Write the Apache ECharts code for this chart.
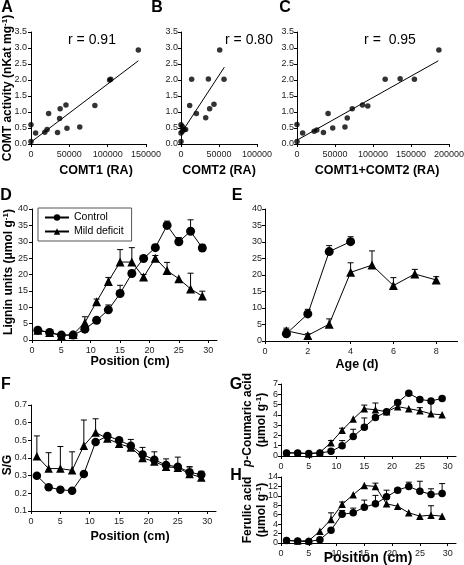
<!DOCTYPE html>
<html><head><meta charset="utf-8">
<script src="https://cdn.jsdelivr.net/npm/echarts@6/dist/echarts.min.js"></script>
<style>html,body{margin:0;padding:0;background:#fff}#c{width:464px;height:565px}</style>
</head><body><div id="c"></div>
<script>
// ---------- data ----------
const aX = [0, 0, 6000, 18000, 21000, 23000, 34600, 37300, 38000, 45600, 46900, 63600, 83300, 102500, 104000, 140000];
const aY = [0.6, 0.08, 0.34, 0.37, 0.45, 0.95, 0.36, 0.8, 1.1, 1.22, 0.49, 0.53, 1.2, 2.0, 2.02, 2.94];
const aFitX = [0, 140000];
const aFitY = [0.06, 2.6];

const bX = [0, 0, 1700, 4000, 6100, 1700, 0, 11400, 14000, 20200, 32500, 36000, 37700, 43400, 50900, 56600];
const bY = [0.6, 0.08, 0.55, 0.45, 0.45, 0.4, 0.34, 1.2, 2.02, 0.95, 0.82, 2.03, 1.1, 1.24, 2.94, 2.02];
const bFitX = [0, 57000];
const bFitY = [0.33, 2.4];

const cX = [0, 0, 7400, 22600, 26100, 34800, 40900, 47000, 63100, 66100, 72700, 86200, 93100, 116000, 135700, 154500, 186700];
const cY = [0.61, 0.08, 0.34, 0.4, 0.44, 0.36, 0.95, 0.5, 0.53, 0.81, 1.1, 1.22, 1.19, 2.02, 2.04, 2.02, 2.94];
const cFitX = [0, 186000];
const cFitY = [0.12, 2.6];

const position = [1, 3, 5, 7, 9, 11, 13, 15, 17, 19, 21, 23, 25, 27, 29];

const dControl    = [3.0, 2.3, 1.5, 1.5, 3.3, 6.0, 9.2, 14.2, 20.3, 24.9, 28.2, 35.0, 30.0, 33.2, 28.1];
const dControlErr = [0.8, 0.5, 0.4, 0.5, 0.8, 0.8, 1.5, 2.5, 0.5, 0.8, 1.0, 1.3, 1.3, 3.5, 1.1];
const dMild       = [3.0, 2.3, 1.3, 1.7, 5.3, 11.7, 17.9, 23.8, 23.8, 19.2, 25.0, 21.2, 18.7, 15.6, 13.4];
const dMildErr    = [0.8, 0.5, 0.4, 0.5, 1.8, 0.8, 1.2, 3.8, 4.4, 0.8, 0.8, 2.5, 0, 4.8, 1.5];

const ageControl    = [1, 2, 3, 4];
const eControl      = [2.2, 8.2, 27.1, 30.1];
const eControlErr   = [1.3, 1.4, 1.8, 1.5];
const ageMild       = [1, 2, 3, 4, 5, 6, 7, 8];
const eMild         = [3.1, 1.7, 5.1, 20.8, 23.0, 16.8, 20.3, 18.5];
const eMildErr      = [0.8, 0.5, 1.6, 2.9, 4.3, 2.4, 1.4, 1.0];

const fControl    = [0.30, 0.235, 0.22, 0.215, 0.31, 0.49, 0.525, 0.50, 0.47, 0.42, 0.39, 0.36, 0.35, 0.32, 0.305];
const fControlErr = [0, 0, 0, 0, 0, 0, 0, 0, 0, 0, 0, 0, 0, 0.03, 0.02];
const fMild       = [0.41, 0.34, 0.34, 0.33, 0.47, 0.545, 0.51, 0.48, 0.46, 0.40, 0.38, 0.35, 0.345, 0.31, 0.29];
const fMildErr    = [0.115, 0.09, 0.125, 0.105, 0.145, 0.077, 0.01, 0.015, 0.045, 0.06, 0.055, 0.045, 0.06, 0.04, 0.03];

const gControl    = [0.3, 0.3, 0.25, 0.3, 0.45, 1.0, 1.9, 2.8, 3.75, 4.3, 5.2, 6.1, 5.5, 5.35, 5.6];
const gControlErr = [0, 0, 0, 0, 0, 0.5, 0.7, 0.9, 0, 0, 0, 0.15, 0, 0, 0];
const gMild       = [0.3, 0.3, 0.2, 0.35, 1.3, 2.5, 3.6, 4.6, 4.5, 4.3, 4.8, 4.6, 4.4, 4.1, 4.0];
const gMildErr    = [0, 0, 0, 0, 0.2, 0.2, 0, 0.35, 0.65, 0, 0, 0, 0.3, 1.0, 0];

const hControl    = [0.55, 0.4, 0.3, 0.7, 2.7, 6.1, 6.4, 7.6, 8.3, 9.8, 11.2, 12.0, 11.0, 10.3, 10.5];
const hControlErr = [0, 0, 0, 0, 0, 0.8, 1.0, 1.5, 1.8, 1.4, 0, 0.9, 2.1, 1.2, 2.1];
const hMild       = [0.6, 0.4, 0.5, 2.5, 5.0, 8.2, 10.25, 12.2, 12.0, 8.3, 7.8, 6.4, 5.7, 5.9, 5.7];
const hMildErr    = [0, 0, 0, 0, 1.4, 0.5, 0, 0, 0.7, 0, 0, 0, 0, 2.0, 0];

const posTicks = [0, 5, 10, 15, 20, 25, 30];
const ageTicks = [0, 2, 4, 6, 8];
const comtYTicks = [0, 0.5, 1.0, 1.5, 2.0, 2.5, 3.0, 3.5];
const ligninYTicks = [0, 5, 10, 15, 20, 25, 30, 35, 40];
const sgYTicks = [0.1, 0.2, 0.3, 0.4, 0.5, 0.6, 0.7];

// ---------- helpers ----------
const FONT = "'Liberation Sans', Arial, sans-serif";
const zip = (xs, ys) => xs.map((x, i) => [x, ys[i]]);
const zip3 = (xs, ys, es) => xs.map((x, i) => [x, ys[i], es[i]]);

const gridBase = {containLabel: false, outerBoundsMode: 'none'};
const grids = [
  {left: 31, top: 32, width: 115, height: 112},   // A
  {left: 181, top: 32, width: 76, height: 112},   // B
  {left: 297, top: 32, width: 152, height: 112},  // C
  {left: 32, top: 209, width: 185, height: 131},  // D
  {left: 265, top: 209, width: 192.6, height: 132}, // E
  {left: 31, top: 405, width: 185, height: 106},  // F
  {left: 281, top: 384, width: 175, height: 72},  // G
  {left: 281, top: 477, width: 175, height: 66}   // H
].map(g => Object.assign({}, gridBase, g));

function xAx(gi, min, max, ticks) {
  return {type: 'value', gridIndex: gi, min: min, max: max,
    axisLine: {show: true, onZero: false, lineStyle: {color: '#000', width: 1}},
    splitLine: {show: false},
    axisTick: {show: true, length: 3, lineStyle: {color: '#000'}, customValues: ticks},
    axisLabel: {show: true, hideOverlap: false, color: '#222', fontSize: 9, fontFamily: FONT, margin: 6, customValues: ticks,
      formatter: v => String(v)}
  };
}
function yAx(gi, min, max, interval, decimals, showLabel) {
  return {type: 'value', gridIndex: gi, min: min, max: max, interval: interval,
    axisLine: {show: true, onZero: false, lineStyle: {color: '#000', width: 1}},
    splitLine: {show: false},
    axisTick: {show: true, length: 3, lineStyle: {color: '#000'}},
    axisLabel: {show: showLabel !== false, hideOverlap: false, color: '#222', fontSize: 9, fontFamily: FONT, margin: 3,
      formatter: v => Number(v).toFixed(decimals)}
  };
}
// y tick labels placed through the axis scale (for the left column)
function yTickLabelSeries(gi, xMin, ticks, decimals) {
  return {type: 'custom', xAxisIndex: gi, yAxisIndex: gi, silent: true, clip: false, z: 5,
    data: ticks.map(t => [xMin, t]), encode: {x: 0, y: 1},
    renderItem: (params, api) => {
      const v = api.value(1);
      const p = api.coord([api.value(0), v]);
      return {type: 'text', x: p[0] - 4, y: p[1],
        style: {text: Number(v).toFixed(decimals), fill: '#222', font: '9px ' + FONT,
          textAlign: 'right', textVerticalAlign: 'middle'}};
    }};
}

function errRender(params, api) {
  const x = api.value(0), y = api.value(1), e = api.value(2);
  if (!e) return null;
  const p0 = api.coord([x, y]), p1 = api.coord([x, y + e]);
  const w = 3;
  return {type: 'group', children: [
    {type: 'line', shape: {x1: p0[0], y1: p0[1], x2: p1[0], y2: p1[1]}, style: {stroke: '#000', lineWidth: 1}},
    {type: 'line', shape: {x1: p1[0] - w, y1: p1[1], x2: p1[0] + w, y2: p1[1]}, style: {stroke: '#000', lineWidth: 1}}
  ]};
}
function errSeries(gi, xs, ys, es) {
  return {type: 'custom', xAxisIndex: gi, yAxisIndex: gi, renderItem: errRender,
    data: zip3(xs, ys, es), encode: {x: 0, y: 1}, z: 1, silent: true};
}
function lineSeries(gi, name, xs, ys, sym, size) {
  return {type: 'line', name: name, xAxisIndex: gi, yAxisIndex: gi, data: zip(xs, ys),
    symbol: sym, symbolSize: size, showSymbol: true,
    lineStyle: {color: '#000', width: 1}, itemStyle: {color: '#000'}, z: 3, animation: false};
}
function scatterSeries(gi, xs, ys) {
  return {type: 'scatter', xAxisIndex: gi, yAxisIndex: gi, data: zip(xs, ys),
    symbolSize: 5.5, itemStyle: {color: '#000'}, clip: false, z: 3};
}
function fitSeries(gi, xs, ys) {
  return {type: 'line', xAxisIndex: gi, yAxisIndex: gi, data: zip(xs, ys), symbol: 'none',
    lineStyle: {color: '#000', width: 1}, z: 2};
}
function txt(x, y, text, size, weight, extra) {
  return Object.assign({type: 'text', x: x, y: y,
    style: {text: text, font: (weight || 'normal') + ' ' + size + 'px ' + FONT, fill: '#000',
      textAlign: 'center', textVerticalAlign: 'middle'}}, extra || {});
}
function rtxt(x, y, text, size, rich) {
  return {type: 'text', x: x, y: y, rotation: Math.PI / 2,
    style: {text: text, font: 'bold ' + size + 'px ' + FONT, fill: '#000',
      textAlign: 'center', textVerticalAlign: 'middle', rich: rich, lineHeight: size + 2}};
}

const sup = (s) => ({fontSize: s, fontWeight: 'bold', fontFamily: FONT, verticalAlign: 'top', padding: [0, 0, 6, 0]});
const B = {fontSize: 12, fontWeight: 'bold', fontFamily: FONT};

const chart = echarts.init(document.getElementById('c'), null, {renderer: 'canvas'});
chart.setOption({
  animation: false,
  backgroundColor: '#fff',
  grid: grids,
  xAxis: [
    xAx(0, 0, 150000, [0, 50000, 100000, 150000]),
    xAx(1, 0, 100000, [0, 50000, 100000]),
    xAx(2, 0, 200000, [0, 50000, 100000, 150000, 200000]),
    xAx(3, 0, 31.5, posTicks),
    xAx(4, 0, 9, ageTicks),
    xAx(5, 0, 31.5, posTicks),
    xAx(6, 0, 31.5, posTicks),
    xAx(7, 0, 31.5, posTicks)
  ],
  yAxis: [
    yAx(0, 0, 3.5, 0.5, 1, false),
    yAx(1, 0, 3.5, 0.5, 1),
    yAx(2, 0, 3.5, 0.5, 1),
    yAx(3, 0, 40, 5, 0, false),
    yAx(4, 0, 40, 5, 0),
    yAx(5, 0.1, 0.7, 0.1, 1, false),
    yAx(6, 0, 7, 1, 0),
    yAx(7, 0, 14, 2, 0)
  ],
  legend: {
    show: true, left: 38, top: 208, orient: 'vertical', data: ['Control', 'Mild deficit'],
    borderColor: '#555', borderWidth: 1, padding: [4, 8, 4, 6], itemGap: 3,
    itemWidth: 24, itemHeight: 8,
    textStyle: {fontSize: 10.5, fontFamily: FONT, color: '#000'}
  },
  series: [
    fitSeries(0, aFitX, aFitY), scatterSeries(0, aX, aY),
    fitSeries(1, bFitX, bFitY), scatterSeries(1, bX, bY),
    fitSeries(2, cFitX, cFitY), scatterSeries(2, cX, cY),
    lineSeries(3, 'Control', position, dControl, 'circle', 9),
    lineSeries(3, 'Mild deficit', position, dMild, 'triangle', 9),
    errSeries(3, position, dControl, dControlErr),
    errSeries(3, position, dMild, dMildErr),
    lineSeries(4, 'Control', ageControl, eControl, 'circle', 9),
    lineSeries(4, 'Mild deficit', ageMild, eMild, 'triangle', 9),
    errSeries(4, ageControl, eControl, eControlErr),
    errSeries(4, ageMild, eMild, eMildErr),
    lineSeries(5, 'Control', position, fControl, 'circle', 8.5),
    lineSeries(5, 'Mild deficit', position, fMild, 'triangle', 8.5),
    errSeries(5, position, fControl, fControlErr),
    errSeries(5, position, fMild, fMildErr),
    lineSeries(6, 'Control', position, gControl, 'circle', 7.5),
    lineSeries(6, 'Mild deficit', position, gMild, 'triangle', 7.5),
    errSeries(6, position, gControl, gControlErr),
    errSeries(6, position, gMild, gMildErr),
    lineSeries(7, 'Control', position, hControl, 'circle', 7.5),
    lineSeries(7, 'Mild deficit', position, hMild, 'triangle', 7.5),
    errSeries(7, position, hControl, hControlErr),
    errSeries(7, position, hMild, hMildErr),
    yTickLabelSeries(0, 0, comtYTicks, 1),
    yTickLabelSeries(3, 0, ligninYTicks, 0),
    yTickLabelSeries(5, 0, sgYTicks, 1)
  ],
  graphic: [
    txt(7, 8, 'A', 16, 'bold'),
    txt(157, 8, 'B', 16, 'bold'),
    txt(285, 8, 'C', 16, 'bold'),
    txt(6, 196, 'D', 16, 'bold'),
    txt(237, 196, 'E', 16, 'bold'),
    txt(6, 385, 'F', 16, 'bold'),
    txt(236, 385, 'G', 16, 'bold'),
    txt(236, 476, 'H', 16, 'bold'),
    txt(92, 40, 'r = 0.91', 14),
    txt(249, 40, 'r = 0.80', 14),
    txt(390, 40, 'r =  0.95', 14),
    txt(96, 171, 'COMT1 (RA)', 12.5, 'bold'),
    txt(219, 171, 'COMT2 (RA)', 12.5, 'bold'),
    txt(377, 171, 'COMT1+COMT2 (RA)', 12.5, 'bold'),
    txt(130, 362, 'Position (cm)', 12.5, 'bold'),
    txt(357, 365, 'Age (d)', 12.5, 'bold'),
    txt(130, 537, 'Position (cm)', 12.5, 'bold'),
    txt(368, 558, 'Position (cm)', 14, 'bold'),
    rtxt(8, 88, '{b|COMT activity (nKat mg}{s|-1}{b|)}', 12, {b: B, s: sup(8)}),
    rtxt(9, 272, '{b|Lignin units (μmol g}{s|-1}{b|)}', 12, {b: B, s: sup(8)}),
    rtxt(8, 465, 'S/G', 12, {}),
    rtxt(255, 420, '{i|p}{b|-Coumaric acid}\n{b|(μmol g}{s|-1}{b|)}', 12, {i: Object.assign({fontStyle: 'italic'}, B), b: B, s: sup(8)}),
    rtxt(255, 510, '{b|Ferulic acid}\n{b|(μmol g}{s|-1}{b|)}', 12, {b: B, s: sup(8)})
  ]
});
</script>
</body></html>
